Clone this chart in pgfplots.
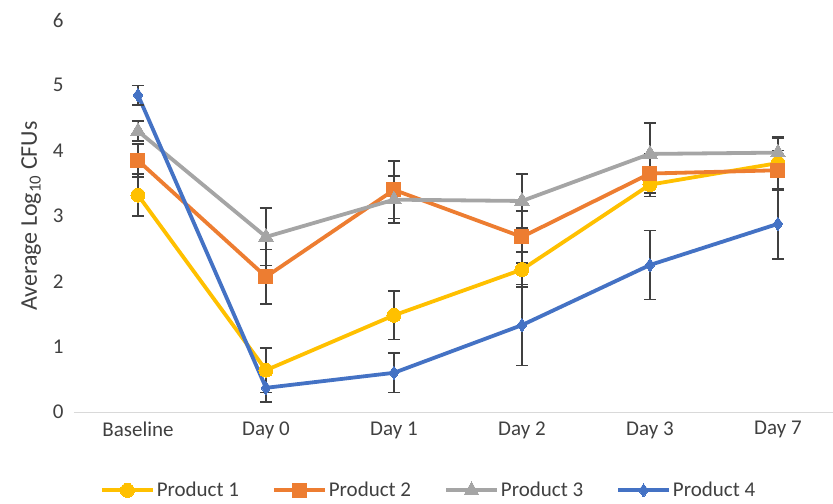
\documentclass[border=0pt]{standalone}
\usepackage{pgfplots}
\pgfplotsset{compat=1.18}
\usepackage{fontspec}
\setmainfont{Carlito}
\definecolor{pone}{HTML}{FFC000}
\definecolor{ptwo}{HTML}{ED7D31}
\definecolor{pthree}{HTML}{A5A5A5}
\definecolor{pfour}{HTML}{4472C4}
\definecolor{txt}{HTML}{404040}
\definecolor{errc}{HTML}{404040}
\definecolor{axc}{HTML}{D9D9D9}
\begin{document}
\begin{tikzpicture}
\begin{axis}[
  scale only axis,
  width=759bp, height=392bp,
  xmin=-0.5, xmax=5.43,
  ymin=0, ymax=6,
  ytick={0,1,2,3,4,5,6},
  xtick={0,1,2,3,4,5},
  xticklabels={Baseline,Day 0,Day 1,Day 2,Day 3,Day 7},
  axis x line=bottom,
  axis y line=left,
  x axis line style={draw=axc, line width=1bp, -},
  y axis line style={draw=none},
  major tick length=0pt,
  font=\fontsize{21bp}{25bp}\selectfont,
  tick label style={text=txt},
  /pgf/number format/assume math mode=true,
  yticklabel style={xshift=-7bp},
  xticklabel style={yshift=-6bp},
  ylabel={Average Log\textsubscript{10} CFUs},
  ylabel style={font=\fontsize{24bp}{28bp}\selectfont, text=txt, yshift=5bp},
  legend columns=4,
  legend style={draw=none, fill=none, at={(0.03,-0.2)}, anchor=west,
    font=\fontsize{21bp}{25bp}\selectfont, text=txt,
    /tikz/every even column/.append style={column sep=31bp},
    nodes={inner sep=2bp}},
  legend image code/.code={\draw[mark repeat=2,mark phase=2] plot coordinates {(0bp,0bp) (25.5bp,0bp) (51bp,0bp)};},
  error bars/y dir=both, error bars/y explicit,
  error bars/error bar style={line width=1.6bp, color=errc, solid},
  error bars/error mark options={rotate=90, mark size=6bp, line width=1.6bp, color=errc},
  every axis plot/.append style={line width=3.8bp},
]
\addplot[color=pone, mark=*, mark size=7bp, mark options={fill=pone, draw=pone, line width=0pt}]
  coordinates {(0,3.32) +- (0,0.32) (1,0.64) +- (0,0.34) (2,1.48) +- (0,0.37) (3,2.18) +- (0,0.27) (4,3.48) +- (0,0.18) (5,3.81) +- (0,0.40)};
\addlegendentry{Product 1}
\addplot[color=ptwo, mark=square*, mark size=7bp, mark options={fill=ptwo, draw=ptwo, line width=0pt}]
  coordinates {(0,3.85) +- (0,0.25) (1,2.07) +- (0,0.42) (2,3.40) +- (0,0.44) (3,2.68) +- (0,0.40) (4,3.65) +- (0,0.30) (5,3.70) +- (0,0.30)};
\addlegendentry{Product 2}
\addplot[color=pthree, mark=triangle*, mark size=8.5bp, mark options={fill=pthree, draw=pthree, line width=0pt}]
  coordinates {(0,4.30) +- (0,0.15) (1,2.68) +- (0,0.44) (2,3.25) +- (0,0.36) (3,3.23) +- (0,0.41) (4,3.95) +- (0,0.47) (5,3.97) +- (0,0.22)};
\addlegendentry{Product 3}
\addplot[color=pfour, mark=diamond*, mark size=6.5bp, mark options={fill=pfour, draw=pfour, line width=0pt}]
  coordinates {(0,4.85) +- (0,0.15) (1,0.37) +- (0,0.22) (2,0.60) +- (0,0.30) (3,1.33) +- (0,0.62) (4,2.25) +- (0,0.53) (5,2.88) +- (0,0.54)};
\addlegendentry{Product 4}
\end{axis}
\pgfresetboundingbox
\path[use as bounding box] ([shift={(-74bp,-92bp)}]current axis.south west) rectangle ([shift={(0bp,20bp)}]current axis.north east);
\end{tikzpicture}
\end{document}
